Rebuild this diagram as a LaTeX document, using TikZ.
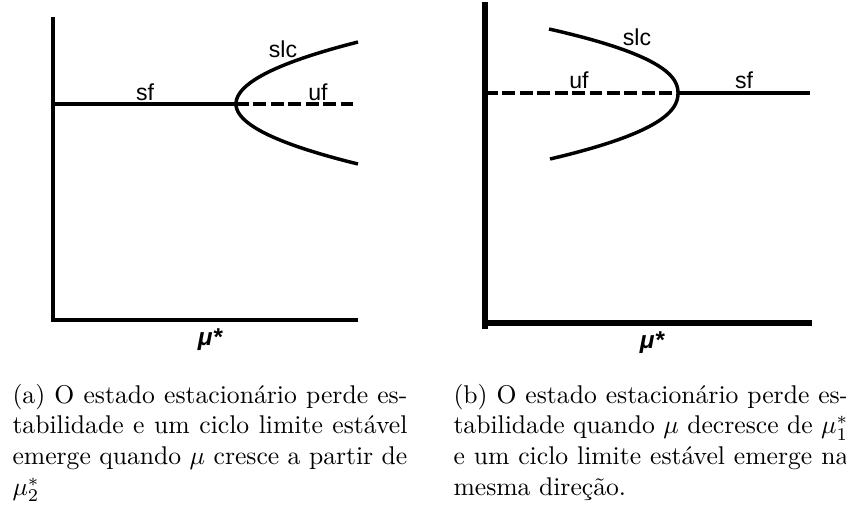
\documentclass[tikz,border=0pt]{standalone}
\usepackage{fontspec}
\newfontfamily\labfont{Liberation Sans}
\begin{document}
\begin{tikzpicture}[x=0.39pt,y=-0.39pt,
  axisL/.style={line width=1.7pt},
  axisR/.style={line width=2pt},
  curve/.style={line width=1.35pt},
  dashcurve/.style={line width=1.35pt, dash pattern=on 5pt off 1.8pt},
  lab/.style={font=\labfont\fontsize{9}{10}\selectfont, inner sep=0pt},
  mulab/.style={font=\labfont\bfseries\itshape\fontsize{9.5}{10}\selectfont, inner sep=0pt},
  capt/.style={text width=154pt, align=justify, inner sep=0pt, anchor=base west,
               font=\fontsize{10}{12}\selectfont}]
\useasboundingbox (0,0) rectangle (846,515);
% ---------- left panel ----------
\coordinate (LT) at (53,17);
\coordinate (LX) at (358,320);
\coordinate (LA) at (53,104);
\coordinate (LV) at (236,104);
\coordinate (LE) at (358,104);
\draw[axisL] (LT) -- (53,322);
\draw[axisL] (52,320) -- (LX);
\draw[curve] (LA) -- (LV);
\draw[dashcurve] (LV) -- (LE);
\draw[curve] plot[domain=0:62,samples=40,smooth] ({236+122*(\x/62)^2},{104-\x});
\draw[curve] plot[domain=0:60,samples=40,smooth] ({236+122*(\x/60)^2},{104+\x});
\node[lab] (sfL) at (145,92) {sf};
\node[lab] (slcL) at (283,49) {slc};
\node[lab] (ufL) at (318,92) {uf};
\node[mulab] (muL) at (210,340) {μ*};
% ---------- right panel ----------
\coordinate (RT) at (485,2);
\coordinate (RX) at (812,323);
\coordinate (RA) at (485,93);
\coordinate (RV) at (678,93);
\coordinate (RE) at (810,93);
\draw[axisR] (RT) -- (485,329);
\draw[axisR] (484,323) -- (RX);
\draw[dashcurve] (RA) -- (RV);
\draw[curve] (RV) -- (RE);
\draw[curve] (RV) -- plot[domain=0.5:64,samples=40,smooth] ({678-129*(\x/64)^2.2},{93-\x});
\draw[curve] (RV) -- plot[domain=0.5:66,samples=40,smooth] ({678-128*(\x/66)^2.2},{93+\x});
\node[lab] (slcR) at (637,37) {slc};
\node[lab] (ufR) at (579,80) {uf};
\node[lab] (sfR) at (744,80) {sf};
\node[mulab] (muR) at (652,343) {μ*};
% ---------- captions ----------
\node[capt] (capA) at (12,403) {(a) O estado estacionário perde es-\linebreak
tabilidade e um ciclo limite estável\linebreak
emerge quando $\mu$ cresce a partir de\linebreak
$\mu_2^*$};
\node[capt] (capB) at (453,403) {(b) O estado estacionário perde es-\linebreak
tabilidade quando $\mu$ decresce de $\mu_1^*$\linebreak
e um ciclo limite estável emerge na\linebreak
mesma direção.};
\end{tikzpicture}
\end{document}
